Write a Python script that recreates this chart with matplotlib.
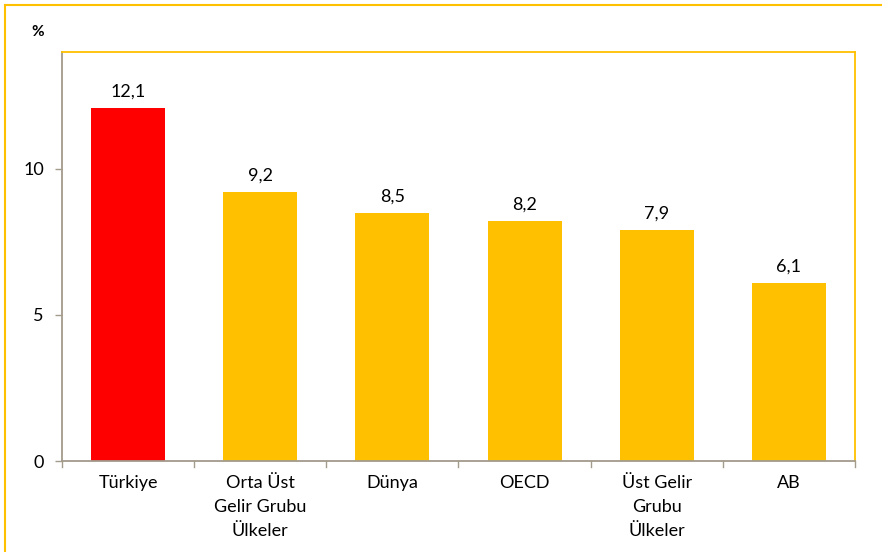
import matplotlib
matplotlib.use("Agg")
import matplotlib.pyplot as plt
from matplotlib.lines import Line2D

categories = ["Türkiye", "Orta Üst\nGelir Grubu\nÜlkeler", "Dünya", "OECD",
              "Üst Gelir\nGrubu\nÜlkeler", "AB"]
values = [12.1, 9.2, 8.5, 8.2, 7.9, 6.1]
value_labels = ["12,1", "9,2", "8,5", "8,2", "7,9", "6,1"]
y_ticks = [0, 5, 10]

RED = "#FF0000"
GOLD = "#FFC000"
AXIS_GREY = "#A39B8B"

plt.rcParams["font.family"] = ["Lato", "DejaVu Sans"]

fig = plt.figure(figsize=(8.82, 5.52), dpi=100)
W, H = 882, 552
ax = fig.add_axes([62 / W, 1 - 461 / H, (855 - 62) / W, (461 - 52) / H])

colors = [RED] + [GOLD] * (len(values) - 1)
x = list(range(len(values)))
ax.bar(x, values, width=0.56, color=colors, zorder=2)

for xi, v, lab in zip(x, values, value_labels):
    ax.annotate(lab, (xi, v), xytext=(0, 6), textcoords="offset points",
                ha="center", va="bottom", fontsize=13, color="#000000")

ax.set_xlim(-0.5, len(values) - 0.5)
ax.set_ylim(0, 14)
ax.set_yticks(y_ticks)
ax.set_yticklabels([str(t) for t in y_ticks], fontsize=13)

ax.set_xticks(x)
ax.set_xticklabels(categories, fontsize=13, linespacing=1.62, va="top")
ax.tick_params(axis="x", length=0, pad=10)
ax.tick_params(axis="y", length=5, width=1, color=AXIS_GREY, pad=8)

# category separators on the x axis
for b in [i - 0.5 for i in range(len(values) + 1)]:
    ax.plot([b, b], [0, -0.22], color=AXIS_GREY, lw=1, clip_on=False, zorder=3)

ax.spines["left"].set_color(AXIS_GREY)
ax.spines["bottom"].set_color(AXIS_GREY)
ax.spines["top"].set_color(GOLD)
ax.spines["right"].set_color(GOLD)
for s in ax.spines.values():
    s.set_linewidth(1.3)

# outer frame (top and left edges)
fig.add_artist(Line2D([4.5 / W, 1.0], [1 - 4.5 / H, 1 - 4.5 / H],
                      transform=fig.transFigure, color=GOLD, lw=1.5))
fig.add_artist(Line2D([4.5 / W, 4.5 / W], [0.0, 1 - 4.5 / H],
                      transform=fig.transFigure, color=GOLD, lw=1.5))

fig.text(38 / W, 1 - 32 / H, "%", fontsize=11, fontweight="bold",
         ha="center", va="center")

fig.savefig("out.png", dpi=100)
